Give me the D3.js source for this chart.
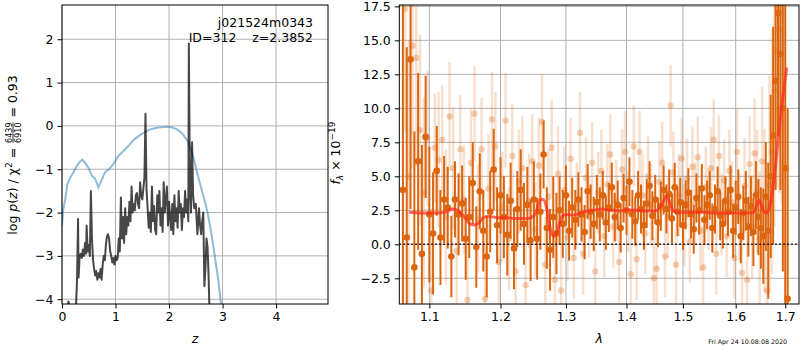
<!DOCTYPE html>
<html><head><meta charset="utf-8">
<script src="https://cdn.jsdelivr.net/npm/d3@7"></script>
<style>
body{margin:0;background:#fff;}
svg{font-family:"DejaVu Sans",sans-serif;}
svg text{fill:#000;}
</style></head><body>
<svg id="c" width="800" height="350"></svg>
<script>
// ---------- LEFT PANEL DATA ----------
const zTicks = [0,1,2,3,4];
const logpTicks = [-4,-3,-2,-1,0,1,2];
// smooth (blue) curve
const priorZ = [0,0.02,0.06,0.1,0.15,0.21,0.28,0.33,0.38,0.43,0.5,0.56,0.62,0.68,0.74,0.8,0.86,0.95,1.05,1.15,1.25,1.35,1.45,1.55,1.65,1.75,1.85,1.95,2.05,2.15,2.25,2.35,2.45,2.55,2.65,2.72,2.8,2.86,2.92,2.97,3.0];
const priorLog = [-2.3,-1.95,-1.7,-1.35,-1.2,-1.08,-0.92,-0.83,-0.78,-0.85,-0.98,-1.15,-1.22,-1.42,-1.25,-1.08,-1.02,-0.9,-0.7,-0.58,-0.45,-0.31,-0.22,-0.14,-0.08,-0.05,-0.03,-0.02,-0.03,-0.08,-0.18,-0.35,-0.7,-1.2,-1.65,-2.0,-2.55,-3.05,-3.55,-4.1,-4.4];
// jagged (grey) curve
const pzZ = [0.10,0.12,0.15,0.25,0.28,0.30,0.31,0.33,0.35,0.37,0.39,0.41,0.43,0.45,0.46,0.48,0.50,0.52,0.54,0.56,0.58,0.60,0.62,0.64,0.66,0.68,0.70,0.72,0.74,0.76,0.78,0.80,0.82,0.84,0.86,0.88,0.90,0.92,0.94,0.96,0.98,1.00,1.02,1.04,1.06,1.08,1.10,1.12,1.14,1.16,1.18,1.20,1.22,1.24,1.26,1.28,1.30,1.32,1.34,1.36,1.38,1.40,1.42,1.44,1.46,1.48,1.50,1.52,1.54,1.56,1.58,1.60,1.62,1.64,1.66,1.68,1.70,1.72,1.74,1.76,1.78,1.80,1.82,1.84,1.86,1.88,1.90,1.92,1.94,1.96,1.98,2.00,2.02,2.04,2.06,2.08,2.10,2.12,2.14,2.16,2.18,2.20,2.22,2.24,2.26,2.28,2.30,2.32,2.34,2.36,2.37,2.39,2.41,2.43,2.45,2.47,2.50,2.53,2.56,2.58,2.60,2.62,2.64,2.66,2.68,2.70,2.72,2.74,2.76];
const pzLog = [-4.3,-4.05,-4.2,-4.5,-3.6,-2.15,-3.5,-3.0,-2.95,-3.05,-2.85,-3.0,-2.7,-2.95,-2.3,-2.9,-2.75,-3.0,-1.5,-2.6,-3.1,-3.3,-3.45,-3.35,-3.55,-3.4,-3.5,-3.3,-3.55,-3.2,-3.0,-3.1,-2.75,-2.55,-2.5,-2.6,-2.9,-3.0,-3.15,-3.05,-3.2,-3.0,-3.1,-3.05,-2.6,-2.9,-1.65,-2.6,-2.1,-2.7,-1.9,-2.5,-2.1,-2.3,-1.75,-2.2,-1.4,-2.0,-1.8,-1.95,-1.6,-1.55,-1.8,-1.9,-1.3,-1.6,-1.7,-1.45,-1.2,0.28,-1.5,-1.9,-2.35,-2.0,-2.45,-1.4,-2.2,-1.85,-2.4,-2.5,-1.6,-2.0,-1.5,-2.3,-1.9,-2.45,-1.3,-2.0,-1.7,-1.4,-2.3,-1.75,-2.1,-2.4,-1.8,-2.5,-1.6,-2.2,-1.9,-2.35,-1.5,-2.0,-1.8,-2.4,-1.9,-2.1,-1.5,-2.0,-1.7,-2.2,1.9,-1.4,-2.0,-0.38,-1.6,-1.9,-1.8,-2.5,-1.9,-2.3,-2.5,-2.2,-2.0,-3.7,-3.3,-2.6,-2.8,-3.5,-4.5];

// ---------- RIGHT PANEL DATA ----------
const lamTicks = [1.1,1.2,1.3,1.4,1.5,1.6,1.7];
const fluxTicks = [-2.5,0,2.5,5,7.5,10,12.5,15,17.5];
const darkLam = [1.065,1.070,1.075,1.080,1.085,1.090,1.095,1.100,1.105,1.110,1.115,1.120,1.125,1.130,1.135,1.140,1.145,1.150,1.155,1.160,1.165,1.170,1.175,1.180,1.185,1.190,1.195,1.200,1.205,1.210,1.215,1.220,1.225,1.230,1.235,1.240,1.245,1.250,1.255,1.260,1.265,1.270,1.275,1.280,1.285,1.290,1.295,1.300,1.305,1.310,1.315,1.320,1.325,1.330,1.335,1.340,1.345,1.350,1.355,1.360,1.365,1.370,1.375,1.380,1.385,1.390,1.395,1.400,1.405,1.410,1.415,1.420,1.425,1.430,1.435,1.440,1.445,1.450,1.455,1.460,1.465,1.470,1.475,1.480,1.485,1.490,1.495,1.500,1.505,1.510,1.515,1.520,1.525,1.530,1.535,1.540,1.545,1.550,1.555,1.560,1.565,1.570,1.575,1.580,1.585,1.590,1.595,1.600,1.605,1.610,1.615,1.620,1.625,1.630,1.635,1.640,1.645,1.650,1.655,1.660,1.665,1.670,1.675,1.680,1.685,1.690,1.695,1.700,1.705];
const darkFlux = [4.0,0.5,13.6,-1.7,6.1,-0.7,7.9,2.2,0.8,5.4,0.5,3.3,2.7,-0.9,3.3,2.2,3.0,0.4,2.0,4.5,-0.2,3.9,1.0,-0.9,2.4,5.5,1.4,3.6,2.0,0.7,3.2,-0.3,2.6,4.0,1.5,2.9,0.3,3.3,0.4,2.4,6.6,1.2,-0.4,2.0,0.8,2.5,1.5,3.6,1.0,2.7,1.8,3.3,2.2,0.9,3.9,2.4,1.5,3.1,2.2,3.6,1.6,2.7,4.2,2.0,2.9,1.2,3.4,2.5,4.6,2.2,1.7,3.6,2.6,1.4,3.0,4.3,2.1,3.3,1.6,2.8,4.0,2.6,3.7,1.9,4.2,2.4,3.1,1.4,2.9,3.8,2.2,1.1,3.4,2.5,4.1,1.8,2.9,3.6,1.2,2.6,3.9,2.1,1.5,3.2,2.4,4.0,1.0,2.7,3.5,0.6,2.3,3.2,1.3,2.8,0.9,3.6,2.0,1.2,0.6,3.5,1.0,5.0,8.0,12.0,17.0,14.0,10.0,5.6,-4.0];
const darkErr = [15,14,11,10,6.5,8,4.5,5,4.5,3.3,3.5,3.2,3,3,2.8,3,2.8,3,3,3,3,2.8,3,3,3,3,2.8,2.8,3,3,2.8,3,2.8,3,3,2.8,3,2.8,3,2.8,2.5,3,3,3,3,2.5,2.5,2.2,2.2,2.2,2.2,2,2,2,2,2,2,2,2,1.8,2,1.8,1.8,1.8,1.8,1.8,1.8,1.8,1.8,1.8,1.8,1.8,1.8,1.8,1.8,1.8,1.8,1.8,1.8,1.8,1.8,1.8,1.8,1.8,1.8,1.8,1.8,1.8,1.8,1.8,1.8,1.8,1.8,1.8,1.8,1.8,1.8,1.8,1.8,1.8,1.8,1.8,1.8,1.8,1.8,1.8,2,2,2,2,2,2.2,2.2,2.2,2.5,2.5,2.8,3,3.5,4,5,6,8,8,9,10,12,13,14];
const lightLam = [1.0675,1.0725,1.0775,1.0825,1.0875,1.0925,1.0975,1.1025,1.1075,1.1125,1.1175,1.1225,1.1275,1.1325,1.1375,1.1425,1.1475,1.1525,1.1575,1.1625,1.1675,1.1725,1.1775,1.1825,1.1875,1.1925,1.1975,1.2025,1.2075,1.2125,1.2175,1.2225,1.2275,1.2325,1.2375,1.2425,1.2475,1.2525,1.2575,1.2625,1.2675,1.2725,1.2775,1.2825,1.2875,1.2925,1.2975,1.3025,1.3075,1.3125,1.3175,1.3225,1.3275,1.3325,1.3375,1.3425,1.3475,1.3525,1.3575,1.3625,1.3675,1.3725,1.3775,1.3825,1.3875,1.3925,1.3975,1.4025,1.4075,1.4125,1.4175,1.4225,1.4275,1.4325,1.4375,1.4425,1.4475,1.4525,1.4575,1.4625,1.4675,1.4725,1.4775,1.4825,1.4875,1.4925,1.4975,1.5025,1.5075,1.5125,1.5175,1.5225,1.5275,1.5325,1.5375,1.5425,1.5475,1.5525,1.5575,1.5625,1.5675,1.5725,1.5775,1.5825,1.5875,1.5925,1.5975,1.6025,1.6075,1.6125,1.6175,1.6225,1.6275,1.6325,1.6375,1.6425,1.6475,1.6525,1.6575,1.6625,1.6675,1.6725,1.6775,1.6825,1.6875,1.6925,1.6975,1.7025];
const lightFlux = [17.3,5.0,14.6,13.7,8.4,3.8,7.8,-3.4,7.1,6.2,7.7,2.0,9.4,5.6,-0.5,7.0,3.3,-4.1,6.0,9.6,1.9,7.0,-4.0,4.1,9.2,7.2,-1.3,2.8,9.1,0.4,6.5,-2.0,4.6,5.6,-3.0,3.2,6.1,1.1,5.8,9.0,-1.5,3.5,7.1,-2.6,5.2,-3.4,4.0,0.5,6.3,-1.0,3.0,8.2,-0.7,4.9,2.0,6.0,-2.0,3.8,5.4,0.6,4.4,6.6,1.3,3.2,-1.3,5.5,6.8,2.4,-2.2,7.2,-1.1,6.8,3.6,0.8,5.0,2.9,-2.5,-1.8,4.6,6.0,-0.9,2.0,10.2,5.3,-1.5,3.6,6.3,1.4,4.8,0.2,5.7,3.0,6.4,1.0,-1.7,4.2,2.6,5.6,7.7,-0.7,6.5,2.2,4.7,0.6,5.4,3.1,-1.0,6.8,2.0,-2.1,4.3,-2.6,5.9,1.3,6.7,3.9,0.4,6.1,2.5,-3.4,4.4,6.8,11.3,14.2,15.8,17.0,18.5,20.0];
const lightErr = [9,10,9,8,7,7,5,6,4,5,4,5,4,4.5,4,4,4,4,4,3.5,4,3.8,4,4,3.5,4,4,4,3.5,3.8,3.8,3.8,3.8,3.8,3.8,3.5,3.5,3.5,3.5,3.5,3.5,3.5,3.5,3.5,3.5,3.5,3.2,3.2,3,3,3,3,3,3,3,3,3,3,3,3,3,3,3,3,3,3,3,3,3,3,3,3,3,3,3,3,3,3,3,3,3,3,3,3,3,3,3,3,3,3,3,3,3,3,3,3,3,3,3,3,3,3,3,3,3,3,3,3.2,3.2,3.2,3.5,3.5,3.5,3.8,4,4.5,5,5.5,6,7,8,9,10,10,12,14];
// model (red) curve
const modelLam = [1.073,1.09,1.11,1.12,1.125,1.131,1.137,1.143,1.15,1.156,1.162,1.168,1.175,1.18,1.19,1.2,1.21,1.22,1.23,1.24,1.245,1.25,1.255,1.26,1.265,1.27,1.274,1.278,1.282,1.286,1.29,1.295,1.3,1.31,1.32,1.33,1.34,1.35,1.36,1.37,1.38,1.39,1.4,1.41,1.42,1.43,1.44,1.45,1.458,1.465,1.47,1.474,1.478,1.483,1.49,1.5,1.52,1.54,1.56,1.58,1.6,1.62,1.635,1.641,1.646,1.651,1.656,1.662,1.668,1.674,1.68,1.686,1.692,1.698,1.703];
const modelFlux = [2.35,2.3,2.3,2.35,2.45,2.6,2.55,2.3,1.9,1.5,1.42,1.55,1.95,2.05,2.0,1.95,1.95,1.9,1.9,1.9,1.95,2.1,2.6,3.3,3.3,2.6,1.5,0.7,0.6,0.9,1.6,2.1,2.2,2.15,2.25,2.4,2.45,2.55,2.6,2.5,2.5,2.45,2.55,2.5,2.5,2.45,2.45,2.45,2.7,3.2,3.55,3.3,2.8,2.45,2.35,2.35,2.35,2.35,2.3,2.3,2.3,2.3,2.35,2.8,3.25,2.9,2.4,2.3,2.8,4.0,5.8,8.0,10.0,11.6,13.0];

// ---------- LAYOUT ----------
const svg = d3.select("#c");
const L = {x0:62, x1:328, y0:5, y1:304};
const R = {x0:399.3, x1:799, y0:5, y1:304};
const FS = 12.5;
const gridCol = "#b0b0b0";
const orange = "#dc660f";

const defs = svg.append("defs");
defs.append("clipPath").attr("id","clipL").append("rect").attr("x",L.x0).attr("y",L.y0).attr("width",L.x1-L.x0).attr("height",L.y1-L.y0);
defs.append("clipPath").attr("id","clipR").append("rect").attr("x",R.x0).attr("y",R.y0).attr("width",R.x1-R.x0).attr("height",R.y1-R.y0);

// scales
const xL = d3.scaleLinear().domain([0,4.97]).range([L.x0,L.x1]);
const yL = d3.scaleLinear().domain([-4.11,2.79]).range([L.y1,L.y0]);
const xR = d3.scaleLog().domain([1.0603,1.7288]).range([R.x0,R.x1]);
const yR = d3.scaleLinear().domain([-4.39,17.6]).range([R.y1,R.y0]);

function grid(P, xs, ys, xt, yt){
  const g = svg.append("g");
  g.selectAll(".gx").data(xt).join("line").attr("x1",d=>xs(d)).attr("x2",d=>xs(d)).attr("y1",P.y0).attr("y2",P.y1).attr("stroke",gridCol).attr("stroke-width",1);
  g.selectAll(".gy").data(yt).join("line").attr("y1",d=>ys(d)).attr("y2",d=>ys(d)).attr("x1",P.x0).attr("x2",P.x1).attr("stroke",gridCol).attr("stroke-width",1);
}
grid(L, xL, yL, zTicks, logpTicks);
grid(R, xR, yR, lamTicks, fluxTicks);

// ---------- LEFT CURVES ----------
const gl = svg.append("g").attr("clip-path","url(#clipL)");
gl.append("path").datum(d3.zip(priorZ, priorLog))
  .attr("d", d3.line().x(d=>xL(d[0])).y(d=>yL(d[1])))
  .attr("fill","none").attr("stroke","#1f77b4").attr("stroke-opacity",0.5).attr("stroke-width",2);
gl.append("path").datum(d3.zip(pzZ, pzLog))
  .attr("d", d3.line().x(d=>xL(d[0])).y(d=>yL(d[1])))
  .attr("fill","none").attr("stroke","#000").attr("stroke-opacity",0.72).attr("stroke-width",2).attr("stroke-linejoin","round");

// ---------- RIGHT DATA ----------
const gr = svg.append("g").attr("clip-path","url(#clipR)");
const light = d3.zip(lightLam, lightFlux, lightErr);
const dark = d3.zip(darkLam, darkFlux, darkErr);
gr.append("g").selectAll("line").data(light).join("line")
  .attr("x1",d=>xR(d[0])).attr("x2",d=>xR(d[0])).attr("y1",d=>yR(d[1]-d[2])).attr("y2",d=>yR(d[1]+d[2]))
  .attr("stroke",orange).attr("stroke-opacity",0.2).attr("stroke-width",2.5);
gr.append("g").selectAll("circle").data(light).join("circle")
  .attr("cx",d=>xR(d[0])).attr("cy",d=>yR(d[1])).attr("r",3.2).attr("fill",orange).attr("fill-opacity",0.3);
gr.append("g").selectAll("line").data(dark).join("line")
  .attr("x1",d=>xR(d[0])).attr("x2",d=>xR(d[0])).attr("y1",d=>yR(d[1]-d[2])).attr("y2",d=>yR(d[1]+d[2]))
  .attr("stroke",orange).attr("stroke-width",2);
gr.append("g").selectAll("circle").data(dark).join("circle")
  .attr("cx",d=>xR(d[0])).attr("cy",d=>yR(d[1])).attr("r",3.3).attr("fill",orange);
gr.append("path").datum(d3.zip(modelLam, modelFlux))
  .attr("d", d3.line().curve(d3.curveMonotoneX).x(d=>xR(d[0])).y(d=>yR(d[1])))
  .attr("fill","none").attr("stroke","#ff2a1a").attr("stroke-opacity",0.7).attr("stroke-width",3);
gr.append("line").attr("x1",R.x0).attr("x2",R.x1).attr("y1",yR(0)).attr("y2",yR(0))
  .attr("stroke","#000").attr("stroke-width",1.5).attr("stroke-dasharray","1.5,2.5");

// ---------- AXES ----------
const minus = s => String(s).replace("-","\u2212");
function styleAxis(g){
  g.select(".domain").remove();
  g.selectAll("text").attr("font-size",FS).attr("fill","#000").attr("font-family","DejaVu Sans");
  g.selectAll("line").attr("stroke","#000").attr("stroke-width",1);
}
svg.append("g").attr("transform",`translate(0,${L.y1})`)
  .call(d3.axisBottom(xL).tickValues(zTicks).tickFormat(d=>d).tickSize(4.5).tickPadding(4)).call(styleAxis);
svg.append("g").attr("transform",`translate(${L.x0},0)`)
  .call(d3.axisLeft(yL).tickValues(logpTicks).tickFormat(d=>minus(d)).tickSize(4.5).tickPadding(4)).call(styleAxis);
svg.append("g").attr("transform",`translate(0,${R.y1})`)
  .call(d3.axisBottom(xR).tickValues(lamTicks).tickFormat(d3.format(".1f")).tickSize(4.5).tickPadding(4)).call(styleAxis);
svg.append("g").attr("transform",`translate(${R.x0},0)`)
  .call(d3.axisLeft(yR).tickValues(fluxTicks).tickFormat(d=>minus(d3.format(".1f")(d))).tickSize(4.5).tickPadding(4)).call(styleAxis);

// spines
[L,R].forEach(P=>svg.append("rect").attr("x",P.x0).attr("y",P.y0).attr("width",P.x1-P.x0).attr("height",P.y1-P.y0)
  .attr("fill","none").attr("stroke","#000").attr("stroke-width",1));

// ---------- TEXT ----------
svg.append("text").attr("x",313).attr("y",27).attr("text-anchor","end").attr("font-size",FS).attr("fill","#000").text("j021524m0343");
svg.append("text").attr("x",313).attr("y",41.5).attr("text-anchor","end").attr("font-size",FS).attr("fill","#000")
  .style("white-space","pre").text("ID=312    z=2.3852");

svg.append("text").attr("x",(L.x0+L.x1)/2).attr("y",343).attr("text-anchor","middle").attr("font-size",FS)
  .attr("font-style","italic").attr("fill","#000").text("z");
svg.append("text").attr("x",(R.x0+R.x1)/2).attr("y",343).attr("text-anchor","middle").attr("font-size",FS)
  .attr("font-style","italic").attr("fill","#000").text("\u03bb");

svg.append("g").attr("opacity",0.99).append("text").attr("x",787).attr("y",344).attr("text-anchor","end").attr("font-size",6.3)
  .attr("fill","#000").text("Fri Apr 24 10:08:08 2020");

// rotated label builder
function rotLabel(cx, cy, pieces){
  const g = svg.append("g");
  let u = 0;
  pieces.forEach(p=>{
    if(p.frac){
      const fs = 8;
      const t1 = g.append("text").attr("font-size",fs).attr("fill","#000").text(p.frac[0]);
      const t2 = g.append("text").attr("font-size",fs).attr("fill","#000").text(p.frac[1]);
      const w = Math.max(t1.node().getComputedTextLength(), t2.node().getComputedTextLength());
      const x = u + 1;
      t1.attr("x",x + w/2).attr("y",-5.5).attr("text-anchor","middle");
      t2.attr("x",x + w/2).attr("y",3.5).attr("text-anchor","middle");
      g.append("line").attr("x1",x).attr("x2",x+w).attr("y1",-4).attr("y2",-4).attr("stroke","#000").attr("stroke-width",0.8);
      u = x + w + 1;
    } else {
      const t = g.append("text").attr("x",u).attr("y",p.dy||0).attr("font-size",p.fs||FS).attr("fill","#000").style("white-space","pre")
        .attr("font-style",p.it?"italic":"normal").text(p.t);
      u += t.node().getComputedTextLength();
    }
  });
  g.attr("transform",`translate(${cx},${cy + u/2}) rotate(-90)`);
}
rotLabel(17, 155, [
  {t:"log "},{t:"p",it:true},{t:"("},{t:"z",it:true},{t:") / "},{t:"\u03c7"},{t:"2",fs:9,dy:-5},{t:" = "},
  {frac:["6439","6910"]},{t:" = 0.93"}
]);
rotLabel(340, 153, [
  {t:"f",it:true},{t:"\u03bb",it:true,fs:9,dy:3},{t:" \u00d7 10"},{t:"\u221219",fs:9,dy:-5}
]);
</script>
</body></html>
